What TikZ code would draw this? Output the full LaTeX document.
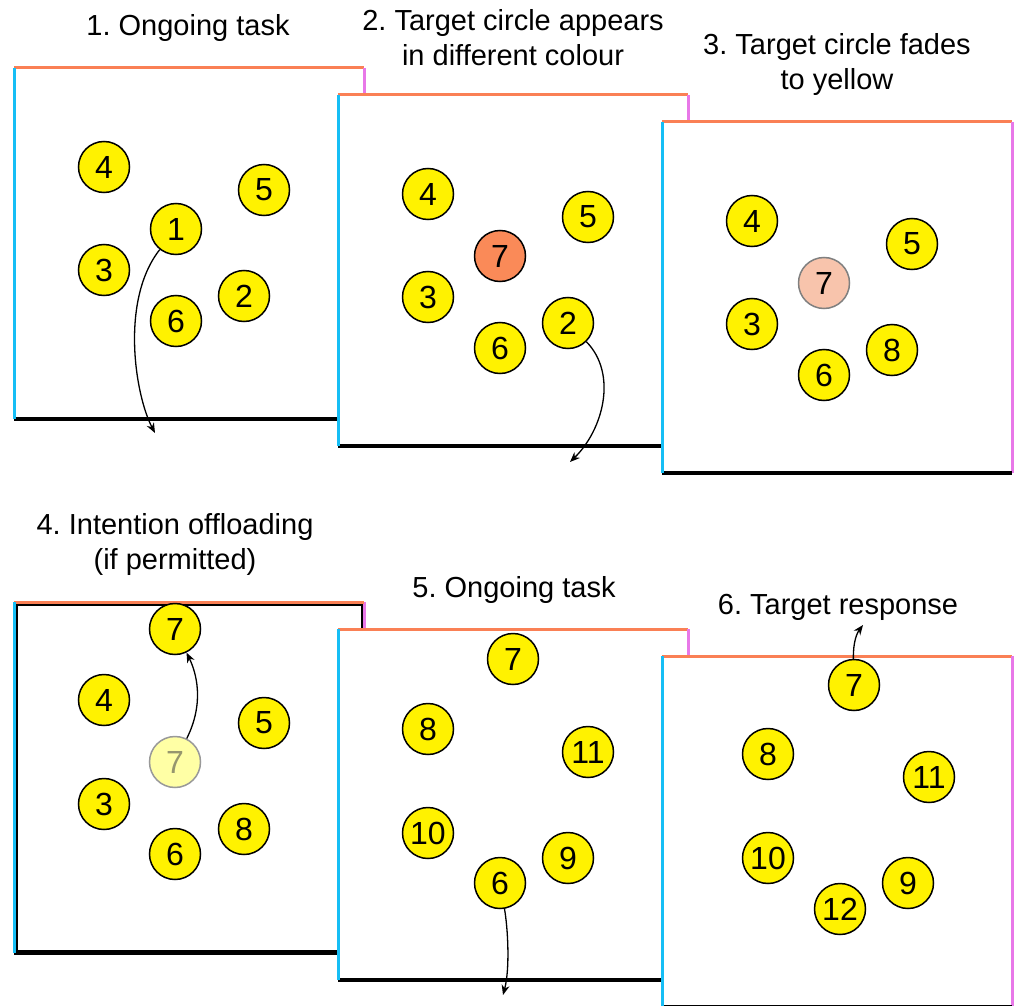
\documentclass[tikz,border=0pt]{standalone}
\usepackage{fontspec}
\setmainfont{Liberation Sans}
\usepackage{tikz}
\usetikzlibrary{arrows.meta}
\frenchspacing

\definecolor{edgecyan}{RGB}{22,190,245}
\definecolor{edgeorange}{RGB}{250,128,85}
\definecolor{edgepink}{RGB}{232,120,232}
\definecolor{targetorange}{RGB}{250,138,88}
\definecolor{fadedsalmon}{RGB}{248,196,172}
\definecolor{fadedyellow}{RGB}{255,255,165}
\definecolor{fadedtext}{RGB}{150,150,110}

\newcommand{\stagefont}{\fontsize{29}{35}\selectfont}
\newcommand{\ballfont}{\fontsize{32}{32}\selectfont}

\tikzset{
  panel/.pic={
    \fill[white] (0,0) rectangle (350,351);
    \draw[line width=3pt, edgeorange] (0,0) -- (350,0);
    \draw[line width=3pt, edgepink] (350,0) -- (350,351);
    \draw[line width=3.5pt] (0,351) -- (350,351);
    \draw[line width=3pt, edgecyan] (0,0) -- (0,351);
  },
  ball/.style={circle, draw, line width=1.5pt, fill=yellow,
    minimum size=51pt, inner sep=0pt, font=\ballfont},
  target/.style={ball, fill=targetorange},
  fading/.style={ball, fill=fadedsalmon, draw=gray},
  ghost/.style={ball, fill=fadedyellow, draw=gray!80, text=fadedtext},
  move/.style={-{Stealth[length=10pt,width=8pt]}, line width=1.3pt},
  stage/.style={align=center, font=\stagefont}
}

\begin{document}
\begin{tikzpicture}[x=1pt, y=-1pt]
    \useasboundingbox (0,0) rectangle (1018,1006);

    % 1. ongoing task
    \begin{scope}[shift={(14,68)}]
      \pic {panel};
      \node[ball] (p1n4) at (90,99)  {4};
      \node[ball] (p1n5) at (250,122) {5};
      \node[ball] (p1n1) at (162,161) {1};
      \node[ball] (p1n3) at (90,202) {3};
      \node[ball] (p1n2) at (230,228) {2};
      \node[ball] (p1n6) at (162,253) {6};
      \coordinate (p1drop) at (141,365);
      \draw[move] (p1n1) .. controls +(-56,71) and +(-20,-38) .. (p1drop);
    \end{scope}

    % 2. target appears
    \begin{scope}[shift={(338,95)}]
      \pic {panel};
      \node[ball]   (p2n4) at (90,99)  {4};
      \node[ball]   (p2n5) at (250,122) {5};
      \node[target] (p2n7) at (162,161) {7};
      \node[ball]   (p2n3) at (90,202) {3};
      \node[ball]   (p2n2) at (230,228) {2};
      \node[ball]   (p2n6) at (162,253) {6};
      \coordinate (p2drop) at (232,367);
      \draw[move] (p2n2) .. controls +(50,51) and +(33,-32) .. (p2drop);
    \end{scope}

    % 3. target fades
    \begin{scope}[shift={(662,122)}]
      \pic {panel};
      \node[ball]   (p3n4) at (90,99)  {4};
      \node[ball]   (p3n5) at (250,122) {5};
      \node[fading] (p3n7) at (162,161) {7};
      \node[ball]   (p3n3) at (90,202) {3};
      \node[ball]   (p3n8) at (230,228) {8};
      \node[ball]   (p3n6) at (162,253) {6};
    \end{scope}

    % 4. offloading
    \begin{scope}[shift={(14,602)}]
      \pic {panel};
      \draw[line width=2pt] (2.5,2.5) rectangle (347.5,349);
      \draw[line width=3pt, edgeorange] (0,0) -- (350,0);
      \draw[line width=3pt, edgecyan] (0,0) -- (0,351);
      \node[ball]  (p4n7)   at (161,27)  {7};
      \node[ball]  (p4n4)   at (90,98)   {4};
      \node[ball]  (p4n5)   at (250,121) {5};
      \node[ghost] (p4ghost) at (161,160) {7};
      \node[ball]  (p4n3)   at (90,202)  {3};
      \node[ball]  (p4n8)   at (230,227) {8};
      \node[ball]  (p4n6)   at (161,252) {6};
      \draw[move] (p4ghost) .. controls +(30,-60) and +(21,43) .. (p4n7);
    \end{scope}

    % 5. ongoing task
    \begin{scope}[shift={(338,629)}]
      \pic {panel};
      \node[ball] (p5n7)  at (175,30)  {7};
      \node[ball] (p5n8)  at (90,100)  {8};
      \node[ball] (p5n11) at (250,123) {11};
      \node[ball] (p5n10) at (90,204)  {10};
      \node[ball] (p5n9)  at (230,229) {9};
      \node[ball] (p5n6)  at (162,254) {6};
      \coordinate (p5drop) at (165,366);
      \draw[move] (p5n6) .. controls +(8,46) and +(7,-26) .. (p5drop);
    \end{scope}

    % 6. target response
    \begin{scope}[shift={(662,656)}]
      \pic {panel};
      \node[ball] (p6n7)  at (192,29)  {7};
      \node[ball] (p6n8)  at (106,98)  {8};
      \node[ball] (p6n11) at (267,121) {11};
      \node[ball] (p6n10) at (106,202) {10};
      \node[ball] (p6n9)  at (246,227) {9};
      \node[ball] (p6n12) at (178,253) {12};
      \coordinate (p6lift) at (201,-31);
      \draw[move] (p6n7) .. controls +(-1,-43) and +(-6,8) .. (p6lift);
    \end{scope}

    \node[stage] (s1) at (188,28)  {1. Ongoing task};
    \node[stage] (s2) at (513,38)  {2. Target circle appears\\in different colour};
    \node[stage] (s3) at (837,65)  {3. Target circle fades\\to yellow};
    \node[stage] (s4) at (175,544) {4. Intention offloading\\(if permitted)};
    \node[stage] (s5) at (514,590) {5. Ongoing task};
    \node[stage] (s6) at (838,607) {6. Target response};
\end{tikzpicture}
\end{document}
